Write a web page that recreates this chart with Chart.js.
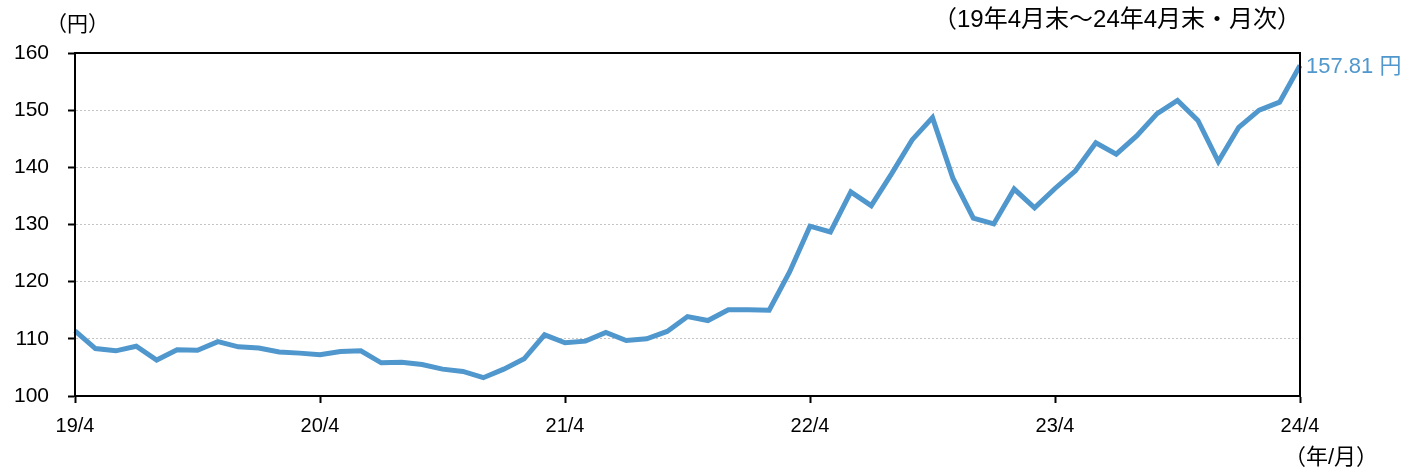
<!DOCTYPE html>
<html>
<head>
<meta charset="utf-8">
<script src="https://cdn.jsdelivr.net/npm/chart.js@4/dist/chart.umd.min.js"></script>
<style>
html,body{margin:0;padding:0;background:#fff;}
#wrap{width:1412px;height:472px;position:relative;}
</style>
</head>
<body>
<div id="wrap"><canvas id="c" width="1412" height="472"></canvas></div>
<script>
const months = [
"19/4","19/5","19/6","19/7","19/8","19/9","19/10","19/11","19/12",
"20/1","20/2","20/3","20/4","20/5","20/6","20/7","20/8","20/9","20/10","20/11","20/12",
"21/1","21/2","21/3","21/4","21/5","21/6","21/7","21/8","21/9","21/10","21/11","21/12",
"22/1","22/2","22/3","22/4","22/5","22/6","22/7","22/8","22/9","22/10","22/11","22/12",
"23/1","23/2","23/3","23/4","23/5","23/6","23/7","23/8","23/9","23/10","23/11","23/12",
"24/1","24/2","24/3","24/4"];
const usdjpy = [
111.4,108.3,107.9,108.7,106.3,108.1,108.0,109.5,108.6,
108.4,107.7,107.5,107.2,107.8,107.9,105.8,105.9,105.5,104.7,104.3,103.2,
104.7,106.5,110.7,109.3,109.6,111.1,109.7,110.0,111.3,113.9,113.2,115.1,
115.1,115.0,121.7,129.7,128.7,135.7,133.3,138.9,144.8,148.7,138.1,131.1,
130.1,136.2,132.9,136.3,139.4,144.3,142.3,145.5,149.4,151.7,148.2,141.0,
147.0,150.0,151.4,157.81];
const yTicks = [100,110,120,130,140,150,160];
const unitLabel = "（円）";
const periodLabel = "（19年4月末～24年4月末・月次）";
const xUnitLabel = "（年/月）";
const lastLabel = "157.81 円";

const FONT = '"Liberation Sans", Arial, "Noto Sans CJK JP", sans-serif';
const LINE = "rgb(79,151,204)";

const extras = {
  id: "extras",
  afterDraw(chart) {
    const ctx = chart.ctx, a = chart.chartArea;
    ctx.save();
    ctx.strokeStyle = "#000";
    ctx.lineWidth = 2;
    ctx.strokeRect(a.left, a.top, a.right - a.left, a.bottom - a.top);
    ctx.fillStyle = "#000";
    ctx.textBaseline = "middle";
    ctx.font = "21px " + FONT;
    ctx.textAlign = "left";
    ctx.fillText(unitLabel, 46, 25);
    ctx.font = "24px " + FONT;
    ctx.textAlign = "left";
    ctx.fillText(periodLabel, 933, 20);
    ctx.font = "22px " + FONT;
    ctx.fillText(xUnitLabel, 1284, 458);
    const ds = chart.getDatasetMeta(0).data;
    const p = ds[ds.length - 1];
    ctx.font = "22px " + FONT;
    ctx.fillStyle = LINE;
    ctx.fillText(lastLabel, p.x + 6, p.y + 1);
    ctx.restore();
  }
};

new Chart(document.getElementById("c"), {
  type: "line",
  data: {
    labels: months,
    datasets: [{
      data: usdjpy,
      borderColor: LINE,
      borderWidth: 5,
      pointRadius: 0,
      tension: 0,
      fill: false
    }]
  },
  options: {
    responsive: false,
    animation: false,
    devicePixelRatio: 1,
    layout: { padding: { left: 0, right: 112, top: 53, bottom: 0 } },
    plugins: { legend: { display: false }, tooltip: { enabled: false } },
    scales: {
      x: {
        type: "category",
        offset: false,
        afterFit(s) { s.height = 76; },
        border: { display: true, color: "#000", width: 2 },
        grid: {
          drawOnChartArea: false,
          drawTicks: true,
          tickLength: 7,
          tickColor: "#000",
          tickWidth: 2
        },
        ticks: {
          autoSkip: false,
          maxRotation: 0,
          padding: 11,
          color: "#000",
          font: { size: 20, family: FONT },
          callback(v, i) { return i % 12 === 0 ? months[i] : null; }
        }
      },
      y: {
        min: 100, max: 160,
        afterFit(s) { s.width = 75; },
        afterBuildTicks(s) { s.ticks = yTicks.map(v => ({ value: v })); },
        border: { display: true, color: "#000", width: 2, dash: [2, 2] },
        grid: {
          color: "#c4c4c4",
          lineWidth: 1,
          drawTicks: true,
          tickLength: 7,
          tickColor: "#000",
          tickWidth: 2,
          tickBorderDash: []
        },
        ticks: {
          padding: 19,
          color: "#000",
          font: { size: 21, family: FONT }
        }
      }
    }
  },
  plugins: [extras]
});
</script>
</body>
</html>
